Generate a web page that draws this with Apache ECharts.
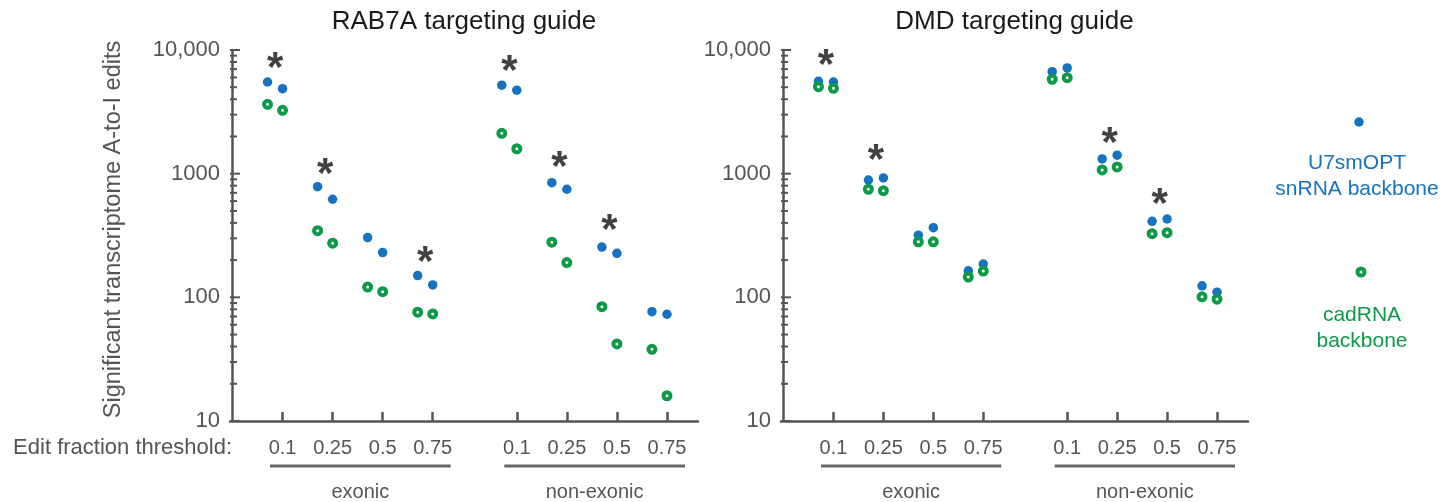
<!DOCTYPE html>
<html>
<head>
<meta charset="utf-8">
<script src="https://cdn.jsdelivr.net/npm/echarts@6/dist/echarts.min.js"></script>
<style>
  html, body { margin: 0; background: #fff; }
  #chart { width: 1456px; height: 502px; }
</style>
</head>
<body>
<div id="chart"></div>
<script>
// edit fraction thresholds, 4 exonic then 4 non-exonic
const thresholds = ['0.1', '0.25', '0.5', '0.75', '0.1', '0.25', '0.5', '0.75'];
const regions = ['exonic', 'non-exonic'];
const panelTitles = ['RAB7A targeting guide', 'DMD targeting guide'];
const seriesNames = ['U7smOPT snRNA backbone', 'cadRNA backbone'];

// two replicates per threshold
const rab7aU7 = [[5510, 4870], [785, 621], [304, 230], [150, 126], [5190, 4730], [846, 748], [255, 227], [76.6, 73.0]];
const rab7aCad = [[3640, 3250], [346, 274], [121, 111], [75.8, 73.4], [2120, 1590], [279, 191], [84.1, 42.0], [38.0, 16.0]];
const dmdU7 = [[5590, 5510], [889, 923], [318, 366], [164, 186], [6680, 7160], [1315, 1410], [412, 430], [124, 110]];
const dmdCad = [[5050, 4900], [748, 729], [281, 281], [146, 163], [5800, 5970], [1071, 1133], [327, 333], [101, 96.6]];

// height of the significance star (null = not significant)
const rab7aStars = [8300, 1150, null, 224, 7800, 1315, 402, null];
const dmdStars = [8730, 1480, null, null, null, 2020, 652, null];

const yTicks = [10, 100, 1000, 10000];

const FONT = '"Liberation Sans", Arial, Helvetica, sans-serif';
const GREY = '#555555';
const BLUE = '#1772bf';
const GREEN = '#0d9a47';

const xMin = -0.05, xMax = 9.3;
const xPos = i => i + 1 + (i >= 4 ? 0.68 : 0);
const tickPos = thresholds.map((t, i) => xPos(i));
const repOffset = [-0.3, 0];

function points(groups) {
  const out = [];
  groups.forEach((reps, i) => reps.forEach((v, r) => out.push([xPos(i) + repOffset[r], v])));
  return out;
}
function starPoints(stars) {
  return stars.map((v, i) => (v == null ? null : [xPos(i) - 0.15, v])).filter(Boolean);
}
// log ticks: majors at decades, minors at 2..9 x decade
const logTicks = yTicks.map(v => [v, 1]);
yTicks.slice(0, -1).forEach(d => { for (let k = 2; k <= 9; k++) logTicks.push([d * k, 0]); });

const grids = [
  { left: 230, top: 50, width: 468, height: 371 },
  { left: 781, top: 50, width: 467, height: 371 }
];

function xAxisFor(g) {
  return {
    type: 'value', gridIndex: g, min: xMin, max: xMax,
    axisLine: { onZero: false, lineStyle: { color: GREY, width: 2.5 } },
    axisTick: { inside: true, length: 9, customValues: tickPos, lineStyle: { color: GREY, width: 2.5 } },
    axisLabel: {
      customValues: tickPos, margin: 17, color: GREY, fontSize: 20, fontFamily: FONT,
      formatter: v => thresholds[tickPos.findIndex(p => Math.abs(p - v) < 1e-6)] || ''
    },
    splitLine: { show: false }
  };
}
function yAxisFor(g) {
  return {
    type: 'log', logBase: 10, gridIndex: g, min: 10, max: 10000,
    name: g === 0 ? 'Significant transcriptome A-to-I edits' : '',
    nameLocation: 'middle', nameGap: 104, nameRotate: 90,
    nameTextStyle: { color: GREY, fontSize: 23.5, fontFamily: FONT, padding: [0, 0, 0, 12] },
    axisLine: { show: true, lineStyle: { color: GREY, width: 2.5 } },
    axisTick: { show: false },
    axisLabel: {
      margin: 10, color: GREY, fontSize: 22, fontFamily: FONT,
      formatter: v => (v === 10000 ? '10,000' : String(v))
    },
    splitLine: { show: false }
  };
}

// y ticks drawn inward through the y scale
function yTickSeries(g) {
  return {
    type: 'custom', xAxisIndex: g, yAxisIndex: g, silent: true, clip: false, z: 3,
    data: logTicks,
    renderItem: (params, api) => {
      const p = api.coord([xMin, api.value(0)]);
      const len = api.value(1) ? 10 : 7;
      return { type: 'line', shape: { x1: p[0], y1: p[1], x2: p[0] + len, y2: p[1] }, style: { stroke: GREY, lineWidth: 2 } };
    }
  };
}

function panelSeries(g, u7, cad, stars) {
  return [
    yTickSeries(g),
    {
      name: seriesNames[0], type: 'scatter', xAxisIndex: g, yAxisIndex: g,
      data: points(u7), symbolSize: 9.5, itemStyle: { color: BLUE, opacity: 1 }
    },
    {
      name: seriesNames[1], type: 'scatter', xAxisIndex: g, yAxisIndex: g,
      data: points(cad), symbolSize: 7,
      itemStyle: { color: '#fff', borderColor: GREEN, borderWidth: 4, opacity: 1 }
    },
    {
      type: 'scatter', xAxisIndex: g, yAxisIndex: g, data: starPoints(stars),
      symbolSize: 0, silent: true, z: 5,
      label: {
        show: true, position: 'inside', formatter: '*', offset: [0, 9],
        fontSize: 42, fontWeight: 'bold', color: '#111', fontFamily: FONT
      }
    }
  ];
}

const chart = echarts.init(document.getElementById('chart'));
chart.setOption({
  animation: false,
  backgroundColor: '#fff',
  grid: grids,
  xAxis: [xAxisFor(0), xAxisFor(1)],
  yAxis: [yAxisFor(0), yAxisFor(1)],
  series: [].concat(
    panelSeries(0, rab7aU7, rab7aCad, rab7aStars),
    panelSeries(1, dmdU7, dmdCad, dmdStars)
  )
});

// titles, group brackets, threshold caption and legend
const textStyle = (extra) => Object.assign({ fontFamily: FONT, fill: GREY, fontSize: 21 }, extra);
const graphics = [];
[0, 1].forEach(g => {
  const l = chart.convertToPixel({ gridIndex: g }, [xMin, 10000]);
  const r = chart.convertToPixel({ gridIndex: g }, [xMax, 10000]);
  graphics.push({
    type: 'text', x: (l[0] + r[0]) / 2, y: 22,
    style: textStyle({ text: panelTitles[g], fill: '#1a1a1a', fontSize: 26, align: 'center', verticalAlign: 'middle' })
  });
  regions.forEach((name, k) => {
    const a = chart.convertToPixel({ gridIndex: g }, [xPos(k * 4) - 0.25, 10]);
    const b = chart.convertToPixel({ gridIndex: g }, [xPos(k * 4 + 3) + 0.36, 10]);
    graphics.push({ type: 'line', shape: { x1: a[0], y1: 466, x2: b[0], y2: 466 }, style: { stroke: '#666', lineWidth: 3 } });
    graphics.push({
      type: 'text', x: (a[0] + b[0]) / 2, y: 492,
      style: textStyle({ text: name, fontSize: 20, align: 'center', verticalAlign: 'middle' })
    });
  });
});
graphics.push({
  type: 'text', x: 232, y: 448,
  style: textStyle({ text: 'Edit fraction threshold:', fontSize: 22, align: 'right', verticalAlign: 'middle' })
});
graphics.push({ type: 'circle', shape: { cx: 1359, cy: 122, r: 4.75 }, style: { fill: BLUE } });
graphics.push({
  type: 'text', x: 1357, y: 176,
  style: textStyle({ text: 'U7smOPT\nsnRNA backbone', fill: BLUE, lineHeight: 26, align: 'center', verticalAlign: 'middle' })
});
graphics.push({ type: 'circle', shape: { cx: 1361, cy: 272, r: 3.5 }, style: { fill: '#fff', stroke: GREEN, lineWidth: 4 } });
graphics.push({
  type: 'text', x: 1362, y: 328,
  style: textStyle({ text: 'cadRNA\nbackbone', fill: GREEN, lineHeight: 26, align: 'center', verticalAlign: 'middle' })
});
chart.setOption({ graphic: graphics });
</script>
</body>
</html>
